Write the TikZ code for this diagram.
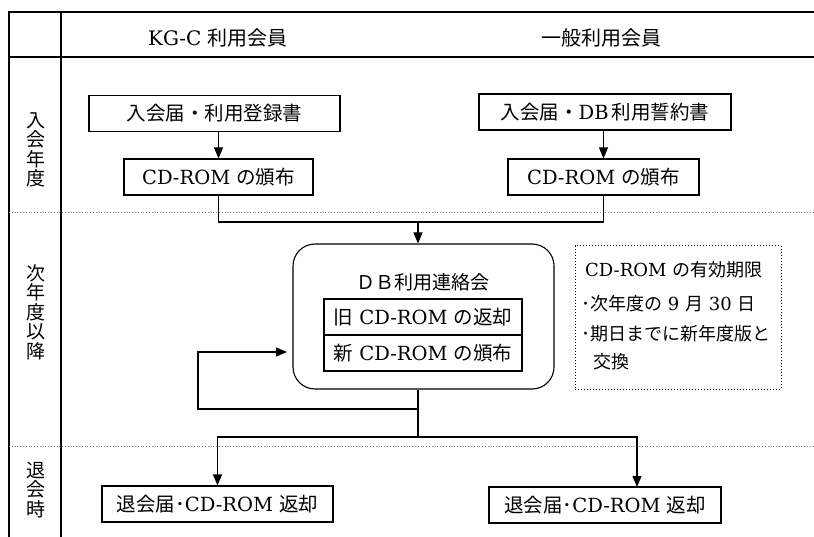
\documentclass[tikz,border=0pt]{standalone}
\usepackage{fontspec}
\setmainfont{DejaVu Serif}
\newfontfamily\cjk{Noto Sans CJK JP}
\usetikzlibrary{arrows.meta}
\newcommand\J[1]{{\cjk #1}}
\begin{document}
\begin{tikzpicture}[x=1pt,y=-1pt,
  box/.style={draw,line width=1.1pt,inner sep=0pt,minimum height=36pt,font=\fontsize{19.5}{21}\selectfont},
  arr/.style={line width=1.1pt,-{Triangle[length=11pt,width=9pt]}},
  ln/.style={line width=1.1pt},
  frameline/.style={line width=1.3pt},
  sep/.style={dotted,gray,line width=0.8pt},
  lab/.style={font=\cjk\fontsize{19}{19.5}\selectfont,align=center,inner sep=0pt},
  hdr/.style={font=\fontsize{20}{22}\selectfont},
  notetext/.style={font=\fontsize{18}{20}\selectfont,anchor=west,inner sep=0pt},
]
\useasboundingbox (0,0) rectangle (814,537);
% frame
\draw[frameline] (814,12) -- (9,12) -- (9,537);
\draw[frameline] (61,12) -- (61,537);
\draw[frameline] (9,57) -- (814,57);
\draw[sep] (9,212) -- (814,212);
\draw[sep] (9,446) -- (814,446);
% headers
\node[hdr] (h1) at (218,38) {KG-C \J{利用会員}};
\node[hdr] (h2) at (601,38) {\J{一般利用会員}};
% left labels
\node[lab] (l1) at (36,150) {入\\会\\年\\度};
\node[lab] (l2) at (36,312) {次\\年\\度\\以\\降};
\node[lab] (l3) at (36,490) {退\\会\\時};
% boxes
\node[box,minimum width=251pt] (a1) at (214.5,113.5) {\J{入会届・利用登録書}};
\node[box,minimum width=189pt] (b1) at (218.5,177) {CD-ROM \J{の頒布}};
\node[box,minimum width=252pt] (a2) at (605,112) {\J{入会届・}DB\,\J{利用誓約書}};
\node[box,minimum width=191pt] (b2) at (603.5,177) {CD-ROM \J{の頒布}};
\node[draw,line width=1.1pt,rounded corners=22pt,minimum width=261pt,minimum height=145pt] (m) at (423.5,316.5) {};
\node[font=\cjk\fontsize{19}{20}\selectfont] (mt) at (423,282) {ＤＢ利用連絡会};
\node[box,fill=white,minimum width=198pt] (i1) at (423,317) {\J{旧} CD-ROM \J{の返却}};
\node[box,fill=white,minimum width=198pt] (i2) at (423,353) {\J{新} CD-ROM \J{の頒布}};
\node[draw,dotted,line width=1pt,minimum width=206pt,minimum height=143pt] (note) at (678,317.5) {};
\node[notetext] (n1) at (585,270) {CD-ROM \J{の有効期限}};
\node[notetext] (n2) at (581,304) {\J{･次年度の} 9 \J{月} 30 \J{日}};
\node[notetext] (n3) at (581,334) {\J{･期日までに新年度版と}};
\node[notetext] (n4) at (593,362) {\J{交換}};
\node[box,minimum width=231pt] (c1) at (217.5,504) {\J{退会届･}CD-ROM \J{返却}};
\node[box,minimum width=232pt] (c2) at (605,505) {\J{退会届･}CD-ROM \J{返却}};
% connectors
\draw[arr] (a1.south -| b1.north) -- (b1.north);
\draw[arr] (a2.south -| b2.north) -- (b2.north);
\coordinate (j) at (418,222);
\draw[ln] (b1.south) |- (j) -| (b2.south);
\draw[arr] (j) -- (j |- m.north);
\coordinate (k) at (418,409);
\coordinate (br) at (418,437);
\coordinate (lp) at (198,409);
\coordinate (fb) at (287,352);
\draw[ln] (k |- m.south) -- (br);
\draw[arr] (k) -- (lp) |- (fb);
\coordinate (c2t) at (637,487);
\draw[arr] (br) -| (c1.north);
\draw[arr] (br) -| (c2t);
\end{tikzpicture}
\end{document}
